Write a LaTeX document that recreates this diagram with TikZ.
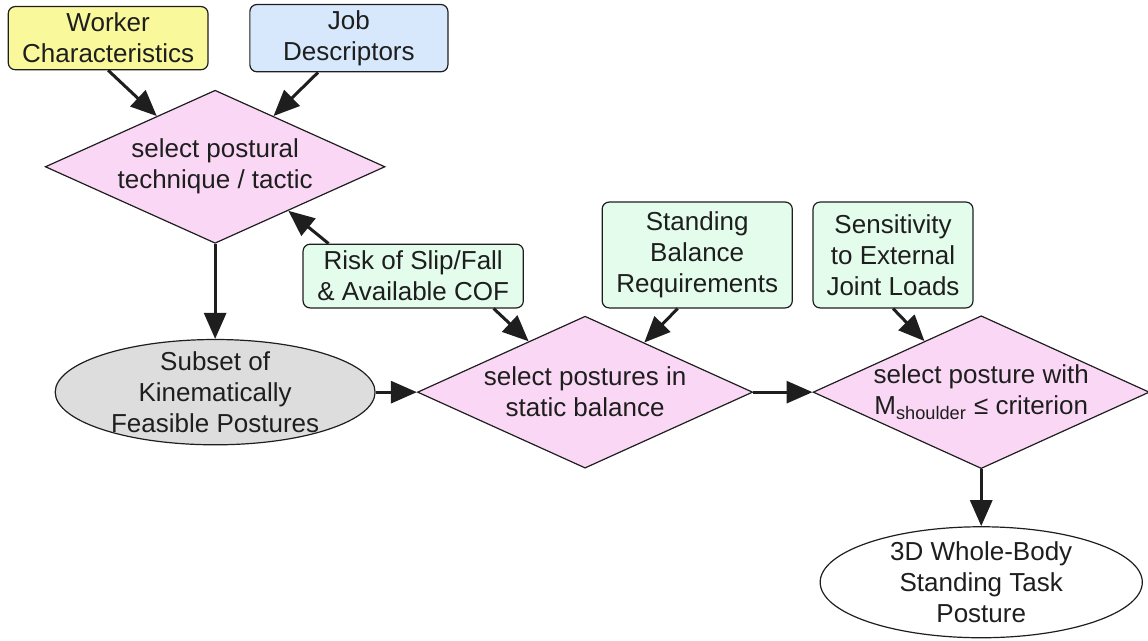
\documentclass[tikz,border=0pt]{standalone}
\usepackage{fontspec}
\setmainfont{Liberation Sans}
\usetikzlibrary{arrows.meta,shapes.geometric}
\definecolor{ink}{RGB}{30,30,30}
\definecolor{workerfill}{RGB}{249,249,155}
\definecolor{jobfill}{RGB}{215,232,252}
\definecolor{stepfill}{RGB}{250,216,245}
\definecolor{factfill}{RGB}{228,252,236}
\definecolor{setfill}{RGB}{221,221,221}
\tikzset{
  every picture/.style={color=ink, line width=0.6pt},
  base/.style={draw=ink, align=center, font=\fontsize{13}{15.5}\selectfont},
  box/.style={base, rounded corners=3.5pt, inner sep=3pt},
  fact/.style={box, fill=factfill},
  choice/.style={base, diamond, fill=stepfill, aspect=2.2, inner sep=0pt},
  result/.style={base, ellipse, inner xsep=0pt, inner ysep=-4pt},
  flow/.style={-{Triangle[length=13pt,width=11pt]}, line width=1.5pt},
}
\begin{document}
\begin{tikzpicture}
  \useasboundingbox (0,0) rectangle (201.7mm,-112.5mm);
  % inputs
  \node[box, fill=workerfill, minimum width=35.1mm, minimum height=11.1mm] (W) at (19mm,-6.7mm) {Worker\\Characteristics};
  \node[box, fill=jobfill, minimum width=34.8mm, minimum height=11.1mm] (J) at (61.3mm,-6.7mm) {Job\\Descriptors};
  \node[choice, minimum width=59.7mm, minimum height=26.9mm] (T) at (37.8mm,-29.3mm) {select postural\\technique / tactic};
  \node[result, fill=setfill, minimum width=56.2mm, minimum height=18.5mm] (S) at (37.8mm,-68.9mm) {Subset of\\Kinematically\\Feasible Postures};
  \node[fact, minimum width=38.7mm, minimum height=11.2mm] (R) at (72.6mm,-48.5mm) {Risk of Slip/Fall\\\& Available COF};
  \node[fact, minimum width=33.4mm, minimum height=18.6mm] (B) at (122.5mm,-44.8mm) {Standing\\Balance\\Requirements};
  \node[fact, minimum width=28.1mm, minimum height=18.6mm] (X) at (156.9mm,-44.8mm) {Sensitivity\\to External\\Joint Loads};
  \node[choice, minimum width=58.9mm, minimum height=26.7mm] (P) at (102.8mm,-68.9mm) {select postures in\\static balance};
  \node[choice, minimum width=58.3mm, minimum height=26.7mm] (M) at (172.4mm,-68.9mm) {select posture with\\M\textsubscript{shoulder} ≤ criterion};
  \node[result, fill=white, minimum width=56.6mm, minimum height=19.5mm] (F) at (172.4mm,-102.3mm) {3D Whole-Body\\Standing Task\\Posture};
  % connectors
  \draw[flow] (W.south) -- (T.139);
  \draw[flow] (J.228) -- (T.41);
  \draw[flow] (T.south) -- (S.north);
  \draw[flow] (R.159) -- (T.-31);
  \draw[flow] (R.-22) -- (P.138);
  \draw[flow] (B.250) -- (P.40);
  \draw[flow] (X.south) -- (M.138);
  \draw[flow] (S.east) -- (P.west);
  \draw[flow] (P.east) -- (M.west);
  \draw[flow] (M.south) -- (F.north);
\end{tikzpicture}
\end{document}
